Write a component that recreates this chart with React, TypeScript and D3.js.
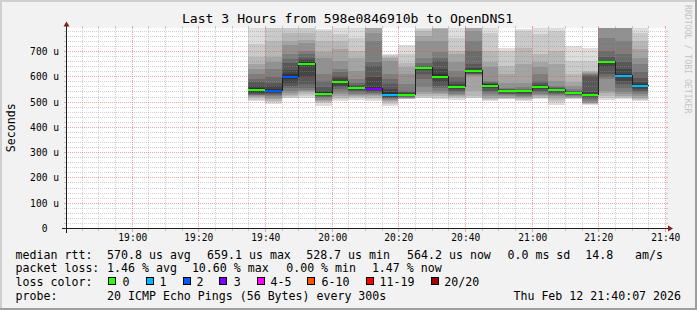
import React from "react";
import * as d3 from "d3";

// ---------- data ----------
const rangeStartText = "2026-02-12 18:40:07";
const rangeEndText = "2026-02-12 21:40:07";
const titleText = "Last 3 Hours from 598e0846910b to OpenDNS1";
const yAxisTitle = "Seconds";
const watermark = "RRDTOOL / TOBI OETIKER";

const barStarts = [
  "19:35", "19:40", "19:45", "19:50", "19:55", "20:00", "20:05", "20:10",
  "20:15", "20:20", "20:25", "20:30", "20:35", "20:40", "20:45", "20:50",
  "20:55", "21:00", "21:05", "21:10", "21:15", "21:20", "21:25", "21:30",
];

// median rtt (microseconds)
const medians = [
  548, 547, 600, 654, 535, 580, 556, 554, 531, 528.7, 635, 602,
  560, 623, 567, 544, 544, 560, 548, 537, 529, 659.1, 604, 564.2,
];

// lost pings out of 20
const losses = [0, 2, 2, 0, 0, 0, 0, 3, 1, 0, 0, 0, 0, 0, 0, 0, 0, 0, 0, 0, 0, 0, 1, 1];

// 20 sorted ping rtts per step (microseconds)
const smokePings = [
  [504, 510, 515, 519, 523, 526, 529, 532, 535, 540, 556, 565, 578, 592, 610, 630, 650, 680, 730, 830],
  [494, 500, 506, 512, 517, 522, 527, 531, 536, 542, 552, 562, 575, 600, 630, 660, 680, 740, 800, 850],
  [515, 518, 522, 528, 535, 545, 555, 565, 575, 590, 610, 625, 655, 670, 690, 725, 740, 775, 800, 850],
  [518, 524, 530, 538, 543, 548, 555, 570, 600, 648, 660, 665, 675, 690, 700, 735, 745, 772, 800, 830],
  [485, 495, 500, 505, 510, 515, 520, 525, 528, 532, 538, 545, 560, 585, 610, 676, 696, 742, 780, 788],
  [505, 512, 518, 525, 530, 540, 550, 558, 565, 575, 585, 595, 605, 620, 630, 663, 709, 740, 768, 830],
  [508, 515, 520, 524, 528, 533, 538, 544, 548, 553, 559, 563, 568, 575, 590, 623, 676, 700, 755, 820],
  [505, 511, 517, 522, 527, 531, 535, 540, 545, 550, 558, 600, 643, 660, 740, 775, 810, 830, 850, 880],
  [485, 494, 500, 505, 508, 512, 515, 518, 521, 524, 538, 550, 571, 590, 610, 663, 675, 680, 685, 689],
  [512, 513, 514, 515, 516, 518, 520, 522, 524, 526, 532, 535, 538, 545, 571, 610, 637, 655, 690, 725],
  [515, 518, 524, 530, 538, 560, 590, 610, 625, 633, 637, 640, 643, 655, 676, 742, 760, 780, 788, 800],
  [512, 517, 522, 530, 535, 545, 555, 565, 580, 594, 610, 630, 663, 675, 696, 742, 790, 800, 830, 860],
  [507, 515, 520, 524, 527, 533, 540, 545, 550, 555, 565, 571, 585, 600, 623, 660, 690, 702, 755, 830],
  [515, 518, 525, 545, 605, 607, 609, 611, 614, 618, 628, 635, 650, 702, 742, 781, 800, 820, 850, 880],
  [505, 509, 513, 518, 525, 532, 538, 545, 555, 564, 570, 572, 574, 578, 584, 637, 660, 702, 775, 820],
  [511, 513, 515, 518, 522, 526, 530, 533, 538, 542, 546, 548, 550, 552, 555, 577, 610, 643, 700, 713],
  [505, 508, 511, 515, 520, 524, 528, 533, 537, 541, 547, 548, 549, 551, 560, 577, 650, 715, 780, 788],
  [512, 515, 518, 522, 527, 532, 538, 545, 551, 556, 564, 568, 575, 584, 610, 637, 660, 689, 768, 830],
  [490, 500, 510, 518, 524, 527, 532, 537, 540, 545, 551, 553, 555, 558, 565, 584, 650, 702, 781, 830],
  [512, 514, 516, 518, 520, 523, 526, 529, 531, 534, 540, 541, 543, 545, 550, 564, 580, 610, 663, 722],
  [490, 492, 493, 495, 498, 505, 512, 518, 522, 525, 533, 540, 603, 606, 610, 614, 618, 623, 663, 713],
  [507, 515, 525, 535, 545, 590, 600, 610, 640, 656, 662, 663, 680, 702, 755, 800, 830, 850, 870, 900],
  [512, 516, 520, 525, 530, 538, 555, 571, 585, 598, 610, 630, 660, 689, 742, 810, 830, 850, 870, 900],
  [505, 509, 513, 518, 524, 530, 538, 545, 552, 558, 570, 580, 597, 620, 650, 676, 710, 742, 775, 830],
];

const yMax = 790.9;
const yTickValues = [0, 100, 200, 300, 400, 500, 600, 700];
const yTickLabels = ["0\u00a0\u00a0", "100 u", "200 u", "300 u", "400 u", "500 u", "600 u", "700 u"];
const yMinorStep = 20;

const lossLabels = ["0", "1", "2", "3", "4-5", "6-10", "11-19", "20/20"];
const lossUpper = [0, 1, 2, 3, 5, 10, 19, 20];
const lossColors = ["#26ff00", "#00b8ff", "#0059ff", "#7e00ff", "#ff00ff", "#ff5500", "#ff0000", "#a10000"];

const rttLabel = "median rtt:";
const rttItems = ["570.8 us avg", "659.1 us max", "528.7 us min", "564.2 us now", "0.0 ms sd", "14.8", "am/s"];
const lossLabel = "packet loss:";
const lossItems = ["1.46 % avg", "10.60 % max", "0.00 % min", "1.47 % now"];
const colorLabel = "loss color:";
const probeLabel = "probe:";
const probeText = "20 ICMP Echo Pings (56 Bytes) every 300s";
const dateText = "Thu Feb 12 21:40:07 2026";

// ---------- layout ----------
const W = 697;
const H = 310;
const X0 = 66;
const X1 = 666;
const Y0 = 228.5;
const Y1 = 28.5;
const MONO = "'DejaVu Sans Mono', monospace";
const rttX = [107.1, 207.1, 306.2, 407.1, 507.5, 585.3, 635.1];
const lossX = [107.1, 191.9, 286.2, 371.9];
const boxX = [108, 145.5, 182.5, 219, 256.5, 307, 365.5, 430.5];
const boxLabelX = [122.5, 159.6, 196.4, 233.7, 270.5, 321.6, 379.6, 444.3];
const lineY = [258.6, 272.4, 286.2, 300.0];

const parseFull = d3.timeParse("%Y-%m-%d %H:%M:%S");
const parseHM = (s: string) => parseFull(`2026-02-12 ${s}:00`) as Date;

export default function App() {
  const start = parseFull(rangeStartText) as Date;
  const end = parseFull(rangeEndText) as Date;
  const x = d3.scaleTime().domain([start, end]).range([X0, X1]);
  const y = d3.scaleLinear().domain([0, yMax]).range([Y0, Y1]);
  const fmt = d3.timeFormat("%H:%M");

  const bars = barStarts.map((s, i) => {
    const t0 = parseHM(s);
    const t1 = d3.timeMinute.offset(t0, 5);
    const xs = Math.floor(x(t0));
    const xe = Math.floor(x(t1));
    return { i, xs, xe, pings: smokePings[i], med: medians[i], loss: losses[i] };
  });

  const grayOf = (ibot: number) => {
    const c = Math.floor((190 / 10) * (10 - ibot)) + 50;
    return d3.rgb(c, c, c).formatHex();
  };

  const colorOfLoss = (l: number) => {
    const k = lossUpper.findIndex((u) => l <= u);
    return lossColors[k < 0 ? lossColors.length - 1 : k];
  };

  const medPts: [number, number][] = bars.map((b) => [b.xs + 0.5, Math.floor(y(b.med)) + 0.5]);
  const last = bars[bars.length - 1];
  medPts.push([last.xe + 0.5, Math.floor(y(last.med)) + 0.5]);
  const medLine = d3.line().curve(d3.curveStepAfter)(medPts) || "";

  const minorTimes = d3.timeMinute.every(5)!.range(start, end);
  const majorTimes = d3.timeMinute.every(20)!.range(start, end);
  const isMajorTime = (t: Date) => t.getMinutes() % 20 === 0;

  const minorVals = d3.range(yMinorStep, yMax, yMinorStep).filter((v) => v % 100 !== 0);
  const majorVals = yTickValues.filter((v) => v > 0);

  const gx = (t: Date) => Math.floor(x(t)) + 0.5;
  const gy = (v: number) => Math.floor(y(v)) + 0.5;

  const GRID = "rgba(143,143,143,0.42)";
  const MGRID = "rgba(222,79,79,0.5)";
  const ARROW = "#801f1f";
  const AXIS = "#1f1f1f";

  return (
    <svg
      width={W}
      height={H}
      viewBox={`0 0 ${W} ${H}`}
      style={{ position: "absolute", left: 0, top: 0, display: "block" }}
      fontFamily={MONO}
    >
      <defs>
        <clipPath id="plotClip">
          <rect x={X0} y={28} width={X1 - X0} height={Y0 - 28} />
        </clipPath>
      </defs>
      {/* background and bevel */}
      <rect x={0} y={0} width={W} height={H} fill="#f2f2f2" />
      <rect x={0} y={0} width={W} height={2} fill="#cfcfcf" />
      <rect x={0} y={0} width={2} height={H} fill="#cfcfcf" />
      <rect x={0} y={H - 2} width={W} height={2} fill="#9e9e9e" />
      <rect x={W - 2} y={0} width={2} height={H} fill="#9e9e9e" />

      {/* canvas */}
      <rect x={X0} y={28} width={X1 - X0} height={Y0 - 28} fill="#ffffff" />

      {/* smoke */}
      <g clipPath="url(#plotClip)" shapeRendering="crispEdges">
        {bars.map((b) =>
          d3.range(1, 11).map((ibot) => {
            const lo = b.pings[ibot - 1];
            const hi = b.pings[20 - ibot];
            const yt = y(Math.min(hi, yMax + 10));
            const yb = y(lo);
            return (
              <rect
                key={`s${b.i}-${ibot}`}
                x={b.xs}
                y={yt}
                width={b.xe - b.xs}
                height={Math.max(0, yb - yt)}
                fill={grayOf(ibot)}
              />
            );
          })
        )}
      </g>

      {/* grid */}
      <g shapeRendering="crispEdges" strokeWidth={1}>
        {minorVals.map((v) => (
          <g key={`hm${v}`} stroke={GRID}>
            <line x1={X0 - 2} x2={X0} y1={gy(v)} y2={gy(v)} />
            <line x1={X1} x2={X1 + 2} y1={gy(v)} y2={gy(v)} />
            <line x1={X0} x2={X1} y1={gy(v)} y2={gy(v)} strokeDasharray="1,1" />
          </g>
        ))}
        {minorTimes
          .filter((t) => !isMajorTime(t))
          .map((t) => (
            <g key={`vm${+t}`} stroke={GRID}>
              <line x1={gx(t)} x2={gx(t)} y1={26} y2={28} />
              <line x1={gx(t)} x2={gx(t)} y1={Y0} y2={Y0 + 2} />
              <line x1={gx(t)} x2={gx(t)} y1={28} y2={Y0} strokeDasharray="1,1" />
            </g>
          ))}
        {majorVals.map((v) => (
          <g key={`hM${v}`} stroke={MGRID}>
            <line x1={X0 - 2} x2={X0} y1={gy(v)} y2={gy(v)} />
            <line x1={X1} x2={X1 + 2} y1={gy(v)} y2={gy(v)} />
            <line x1={X0} x2={X1} y1={gy(v)} y2={gy(v)} strokeDasharray="1,1" />
          </g>
        ))}
        {majorTimes.map((t) => (
          <g key={`vM${+t}`} stroke={MGRID}>
            <line x1={gx(t)} x2={gx(t)} y1={26} y2={28} />
            <line x1={gx(t)} x2={gx(t)} y1={Y0} y2={Y0 + 3} />
            <line x1={gx(t)} x2={gx(t)} y1={28} y2={Y0} strokeDasharray="1,1" />
          </g>
        ))}
      </g>

      {/* median line */}
      <path d={medLine} fill="none" stroke="#202020" strokeWidth={1} shapeRendering="crispEdges" />
      <g shapeRendering="crispEdges">
        {bars.map((b) => (
          <rect
            key={`m${b.i}`}
            x={b.xs}
            y={Math.floor(y(b.med)) - 0.5}
            width={b.xe - b.xs}
            height={2}
            fill={colorOfLoss(b.loss)}
          />
        ))}
      </g>

      {/* axes */}
      <g shapeRendering="crispEdges" stroke={AXIS} strokeWidth={1}>
        <line x1={X0 - 4} x2={X1 + 4} y1={Y0} y2={Y0} />
        <line x1={X0 + 0.5} x2={X0 + 0.5} y1={Y0 + 4} y2={Y1 - 4} />
      </g>
      <path d={`M${X1 + 2},${Y0 - 3}L${X1 + 2},${Y0 + 3}L${X1 + 7},${Y0}Z`} fill={ARROW} />
      <path d={`M${X0 - 2.5},${Y1 - 2}L${X0 + 3.5},${Y1 - 2}L${X0 + 0.5},${Y1 - 7}Z`} fill={ARROW} />

      {/* tick labels */}
      <g fontSize={9.6} fill="#000">
        {yTickValues.map((v, i) => (
          <text key={`yl${v}`} x={59} y={gy(v) + 3.3} textAnchor="end">
            {yTickLabels[i]}
          </text>
        ))}
        {majorTimes.map((t) => (
          <text key={`xl${+t}`} x={gx(t) + 0.3} y={240.5} textAnchor="middle">
            {fmt(t)}
          </text>
        ))}
      </g>

      {/* titles */}
      <text x={347.5} y={23} fontSize={13.1} textAnchor="middle" fill="#000">
        {titleText}
      </text>
      <text
        transform={`translate(15.3,127.7) rotate(-90)`}
        fontSize={11.6}
        textAnchor="middle"
        fill="#000"
      >
        {yAxisTitle}
      </text>
      <text transform={`translate(685.3,5) rotate(90)`} fontSize={8.2} fill="#c4c4c4">
        {watermark}
      </text>

      {/* legend */}
      <g fontSize={11.6} fill="#000">
        <text x={15.6} y={lineY[0]}>{rttLabel}</text>
        {rttItems.map((s, i) => (
          <text key={`r${i}`} x={rttX[i]} y={lineY[0]}>
            {s}
          </text>
        ))}
        <text x={15.6} y={lineY[1]}>{lossLabel}</text>
        {lossItems.map((s, i) => (
          <text key={`l${i}`} x={lossX[i]} y={lineY[1]}>
            {s}
          </text>
        ))}
        <text x={15.6} y={lineY[2]}>{colorLabel}</text>
        {lossLabels.map((s, i) => (
          <g key={`c${i}`}>
            <rect
              x={boxX[i] + 0.5}
              y={277.5}
              width={7}
              height={7}
              fill={lossColors[i]}
              stroke="#000"
              strokeWidth={1}
              shapeRendering="crispEdges"
            />
            <text x={boxLabelX[i]} y={lineY[2]}>
              {s}
            </text>
          </g>
        ))}
        <text x={15.6} y={lineY[3]}>{probeLabel}</text>
        <text x={107.1} y={lineY[3]}>{probeText}</text>
        <text x={681} y={lineY[3]} textAnchor="end">
          {dateText}
        </text>
      </g>
    </svg>
  );
}
